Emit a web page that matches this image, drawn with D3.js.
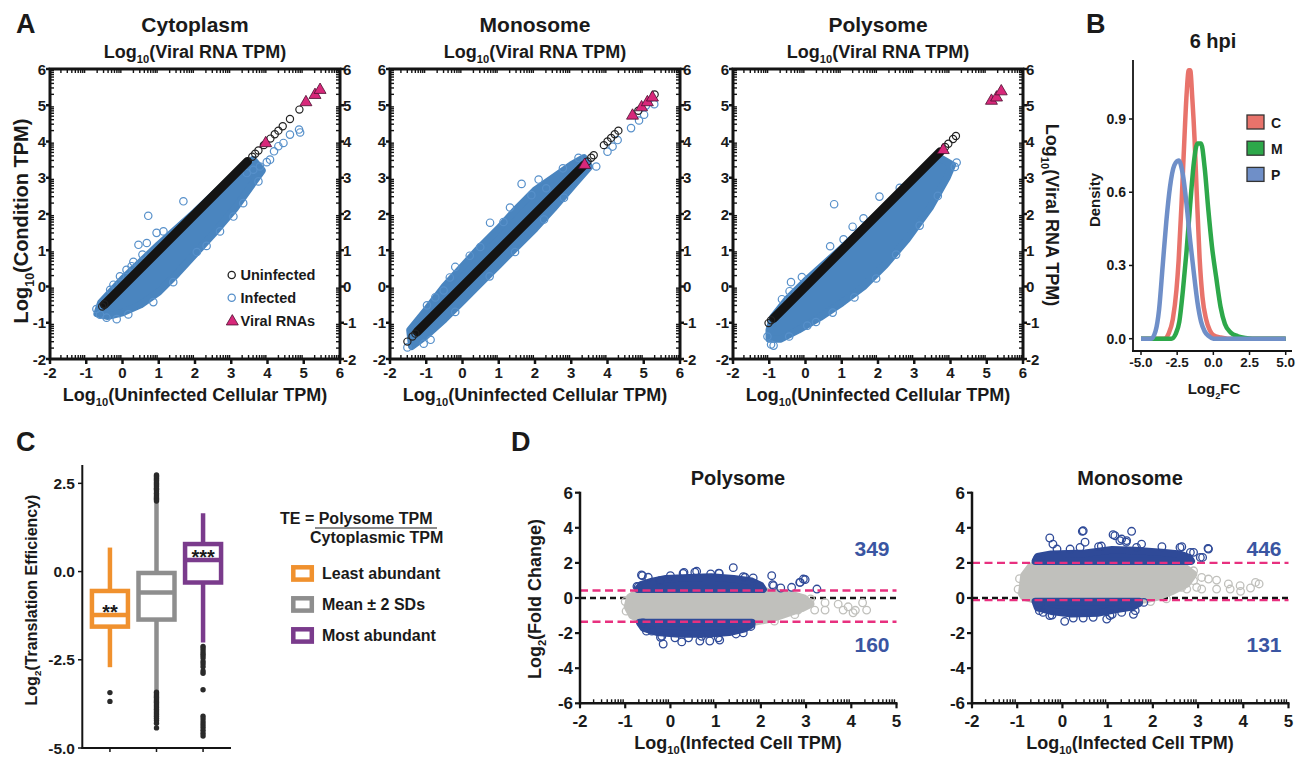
<!DOCTYPE html>
<html><head><meta charset="utf-8">
<script src="https://cdn.jsdelivr.net/npm/d3@7"></script>
<style>
body{margin:0;background:#fff}
svg text{font-family:"Liberation Sans",Arial,Helvetica,sans-serif;font-weight:bold;fill:#1a1a1a}
</style>
</head><body><script>
// ---------- Panel A: scatter of condition TPM vs uninfected TPM (log10) ----------
const scatterTitles = ["Cytoplasm", "Monosome", "Polysome"];
const scatterTicks = [-2, -1, 0, 1, 2, 3, 4, 5, 6];

// Uninfected genes sit on the identity line: dense run [from, to] plus sparse ends
const cytoUninfRun = [-0.5, 3.45];
const cytoUninfSparse = [[-0.56,-0.55],[-0.5,-0.49],[3.58,3.58],[3.66,3.66],[3.75,3.75],[3.9,3.9],[4.08,4.08],[4.2,4.2],[4.3,4.3],[4.42,4.42],[4.62,4.62],[4.88,4.88]];
const cytoInfCloud = [[-0.7,-0.75],[-0.6,-0.45],[0.0,0.2],[1.0,1.15],[2.0,2.05],[3.0,3.0],[3.6,3.5],[3.85,3.2],[3.6,2.85],[3.1,2.15],[2.5,1.45],[2.0,0.9],[1.5,0.35],[1.0,-0.15],[0.5,-0.5],[0.0,-0.72],[-0.4,-0.82]];
const cytoInfOutliers = [[1.68,2.35],[0.71,1.95],[0.44,1.15],[-0.25,0.05],[0.94,1.48],[1.13,1.52],[0.67,1.2],[0.25,0.56],[0.11,0.46],[-0.07,0.28],[-0.34,-0.09],[2.05,0.95],[-0.62,-0.78],[3.61,3.22],[3.79,3.31],[3.98,3.43],[4.07,3.5],[4.18,3.73],[4.3,3.87],[4.44,3.96],[4.62,4.19],[4.87,4.33],[4.9,4.25],[3.43,3.13],
  [-0.44,-0.86],[-0.16,-0.9],[0.16,-0.77],[0.85,-0.43],[1.4,0.12],[2.32,1.12],[2.69,1.52],[3.06,1.93],[3.33,2.3],[3.75,2.9],[-0.72,-0.62],[0.3,0.68],[0.55,0.88]];
const cytoViral = [[3.95,3.98],[5.06,5.11],[5.31,5.31],[5.45,5.45]];

const monoUninfRun = [-1.25, 3.35];
const monoUninfSparse = [[-1.52,-1.52],[-1.38,-1.38],[-1.3,-1.3],[3.45,3.45],[3.55,3.55],[3.62,3.62],[3.9,3.9],[4.0,4.0],[4.1,4.1],[4.2,4.2],[4.3,4.3],[4.85,4.85],[5.3,5.3]];
const monoInfCloud = [[-1.45,-1.2],[-1.0,-0.65],[-0.5,0.0],[0.0,0.55],[0.5,1.1],[1.0,1.6],[1.5,2.15],[2.0,2.65],[2.5,3.0],[3.0,3.35],[3.35,3.55],[3.5,3.3],[3.1,2.85],[2.5,2.15],[2.0,1.6],[1.5,1.1],[1.0,0.6],[0.5,0.1],[0.0,-0.4],[-0.5,-0.9],[-1.0,-1.35],[-1.4,-1.65]];
const monoInfOutliers = [[1.63,2.83],[0.76,1.76],[1.13,1.78],[1.31,2.18],[1.9,2.52],[-0.2,0.54],[-0.98,-0.52],[-1.52,-1.68],[0.07,0.03],[-0.52,-0.11],[0.49,1.09],[2.77,3.26],[2.31,2.71],[3.69,3.31],[4.0,3.72],[4.14,3.86],[4.28,4.04],[4.65,4.37],[4.87,4.58],[5.01,4.74],[5.06,4.99],[5.29,5.03],[-0.88,-1.47],[-1.07,-1.58],
  [-0.75,-0.3],[-0.35,0.25],[0.2,0.85],[1.45,0.95],[0.75,0.28],[-0.2,-0.7],[2.25,1.85],[2.8,2.45],[3.2,3.55],[2.1,2.95]];
const monoViral = [[3.37,3.38],[4.69,4.74],[4.94,4.97],[5.1,5.11],[5.24,5.24]];

const polyUninfRun = [-0.88, 3.72];
const polyUninfSparse = [[-1.02,-1.01],[-0.95,-0.93],[3.85,3.85],[3.94,3.94],[4.07,4.07],[4.15,4.15]];
const polyInfCloud = [[-1.0,-1.2],[-0.9,-0.85],[-0.5,-0.35],[0.0,0.15],[1.0,1.05],[2.0,2.0],[3.0,2.95],[3.7,3.55],[4.05,3.35],[3.9,3.0],[3.45,2.2],[2.8,1.3],[2.2,0.6],[1.6,0.0],[1.0,-0.45],[0.4,-0.85],[-0.2,-1.2],[-0.7,-1.45],[-1.0,-1.45]];
const polyInfOutliers = [[0.79,2.27],[2.04,2.48],[1.6,1.88],[1.3,1.65],[1.05,1.3],[0.68,1.11],[-0.1,0.26],[-0.4,0.12],[-0.44,-0.13],[0.29,-0.98],[-0.88,-1.63],[-1.05,-1.38],[4.17,3.42],[4.12,3.3],[-0.95,-1.6],
  [0.75,-0.72],[1.35,-0.3],[1.95,0.22],[2.5,0.88],[3.15,1.68],[3.65,2.5],[-0.45,-1.38],[0.05,-1.08],[-0.65,-0.35],[2.6,2.72]];
const polyViral = [[3.8,3.79],[5.13,5.15],[5.27,5.24],[5.4,5.41]];

// ---------- Panel B: density of log2 fold change at 6 hpi ----------
const densityKeys = ["C", "M", "P"];
const densityC = [[-5,0],[-3.4,0],[-3.1,0.02],[-2.8,0.08],[-2.55,0.2],[-2.4,0.32],[-2.2,0.55],[-2.0,0.82],[-1.85,1.0],[-1.7,1.1],[-1.6,1.1],[-1.45,0.98],[-1.3,0.82],[-1.15,0.6],[-0.95,0.33],[-0.75,0.17],[-0.5,0.08],[-0.25,0.035],[0,0.015],[0.5,0.005],[1,0],[5,0]];
const densityM = [[-5,0],[-2.9,0],[-2.6,0.02],[-2.35,0.07],[-2.1,0.2],[-1.85,0.36],[-1.6,0.55],[-1.35,0.72],[-1.1,0.8],[-0.85,0.8],[-0.6,0.7],[-0.35,0.53],[-0.1,0.38],[0.2,0.25],[0.5,0.13],[0.8,0.06],[1.2,0.025],[1.7,0.01],[2.2,0.003],[2.7,0],[5,0]];
const densityP = [[-5,0],[-4.3,0],[-4.0,0.03],[-3.75,0.12],[-3.5,0.3],[-3.25,0.48],[-3.0,0.62],[-2.7,0.71],[-2.4,0.73],[-2.1,0.67],[-1.85,0.55],[-1.6,0.4],[-1.35,0.27],[-1.1,0.15],[-0.85,0.07],[-0.6,0.03],[-0.3,0.01],[0,0],[5,0]];
const densityXTicks = [-5, -2.5, 0, 2.5, 5];
const densityYTicks = [0, 0.3, 0.6, 0.9];

// ---------- Panel C: translation efficiency boxes ----------
const boxGroups = ["Least abundant", "Mean ± 2 SDs", "Most abundant"];
const boxLow  = [-2.71, -3.40, -2.01];
const boxQ1   = [-1.56, -1.36, -0.31];
const boxMed  = [-1.23, -0.59, 0.33];
const boxQ3   = [-0.55, -0.04, 0.78];
const boxHigh = [0.68, 1.94, 1.65];
const boxStars = ["**", "", "***"];
const boxOutliers = [
  [-3.43, -3.68],
  [2.74,2.71,2.68,2.64,2.6,2.57,2.52,2.48,2.45,2.41,2.36,2.33,2.28,2.22,2.17,2.12,2.08,2.04,2.0,
   -3.42,-3.47,-3.52,-3.56,-3.61,-3.66,-3.7,-3.75,-3.8,-3.85,-3.9,-3.95,-4.0,-4.05,-4.1,-4.16,-4.22,-4.3,-4.43],
  [-2.12,-2.18,-2.25,-2.32,-2.38,-2.45,-2.55,-2.62,-2.7,-2.82,-2.88,-3.35,-4.1,-4.18,-4.26,-4.34,-4.42,-4.5,-4.58,-4.66]
];
const boxYTicks = [2.5, 0, -2.5, -5];

// ---------- Panel D: log2 fold change vs infected TPM ----------
const maTitles = ["Polysome", "Monosome"];
const maUpCounts = [349, 446];
const maDownCounts = [160, 131];
const maUpCut = [0.43, 2.0];
const maDownCut = [-1.35, -0.12];
const polyGrayCloud = [[-0.95,-0.5],[-0.9,0.05],[-0.7,0.35],[2.1,0.38],[2.6,0.25],[2.95,0.0],[3.1,-0.35],[2.9,-0.6],[2.5,-0.95],[2.2,-1.2],[1.9,-1.35],[-0.55,-1.35],[-0.85,-1.0]];
const polyGrayOut = [[3.08,-0.25],[3.42,-0.27],[3.42,-0.69],[3.71,-0.35],[3.82,-0.69],[3.93,-0.5],[4.04,-0.84],[4.09,-0.7],[4.25,-0.27],[4.34,-0.69],[3.19,-0.69],[2.82,-0.69],[-1.0,-0.2],[-0.98,-0.75],[2.3,-1.32],[2.75,-0.95],[3.1,-0.05]];
const polyUpCloud = [[-0.72,0.5],[-0.65,0.75],[-0.4,0.95],[-0.1,1.1],[0.4,1.15],[0.9,1.2],[1.4,1.1],[1.8,0.95],[2.0,0.7],[2.05,0.5]];
const polyDownCloud = [[-0.68,-1.4],[-0.6,-1.7],[-0.3,-1.95],[0.2,-2.05],[0.8,-2.05],[1.3,-1.95],[1.65,-1.75],[1.8,-1.5],[1.8,-1.4]];
const polyBlueOut = [[-0.62,1.27],[-0.49,1.18],[0.28,1.4],[0.54,1.47],[1.39,1.73],[1.08,1.4],[2.24,1.27],[2.28,0.7],[2.68,0.61],[2.87,0.89],[2.98,1.05],[3.24,0.51],[1.65,1.18],[-0.74,0.66],
  [-0.16,-2.62],[-0.22,-2.24],[0.25,-2.5],[0.65,-2.45],[0.87,-2.45],[1.09,-2.4],[1.61,-1.99],[-0.53,-1.89],[-0.64,-1.43],
  [-0.64,1.31],[-0.71,0.64],[-0.23,0.99],[0.0,1.27],[0.3,1.46],[0.58,1.52],[0.89,1.37],[1.07,1.41],[1.61,1.22],[1.83,1.14],[1.94,0.7],[2.26,0.76],[2.44,0.57],[2.86,0.89],[2.94,1.08],
  [-0.6,-1.42],[-0.41,-1.89],[-0.19,-2.18],[0.1,-2.27],[0.4,-2.27],[0.69,-2.18],[1.06,-2.27],[1.45,-2.05],[1.78,-1.62]];
const monoGrayCloud = [[-0.9,0.25],[-0.85,1.3],[-0.7,1.8],[-0.5,1.95],[2.4,1.95],[2.7,1.75],[2.9,1.35],[2.75,0.8],[2.4,0.35],[2.1,0.05],[1.8,-0.1],[-0.6,-0.1],[-0.85,0.05]];
const monoGrayOut = [[2.9,1.55],[3.08,1.17],[2.9,0.99],[2.75,0.51],[2.97,0.61],[3.23,1.08],[3.41,1.02],[3.67,0.8],[3.71,0.51],[3.41,0.51],[3.93,0.7],[4.16,0.57],[3.94,0.38],[4.27,0.89],[4.35,0.8],[2.53,0.8],[2.64,0.61],[3.08,0.51],[-0.98,0.5],[-0.95,1.1],[2.3,-0.05],[1.95,-0.2]];
const monoUpCloud = [[-0.6,2.1],[-0.55,2.35],[-0.25,2.5],[0.5,2.55],[1.1,2.75],[1.6,2.7],[2.2,2.6],[2.6,2.5],[2.8,2.3],[2.85,2.1]];
const monoDownCloud = [[-0.6,-0.2],[-0.55,-0.55],[-0.25,-0.75],[0.2,-0.9],[0.8,-0.85],[1.2,-0.65],[1.55,-0.5],[1.7,-0.3],[1.7,-0.2]];
const monoBlueOut = [[-0.28,3.42],[-0.21,3.07],[0.44,3.8],[0.5,3.18],[1.12,3.61],[1.53,3.8],[1.27,3.27],[1.41,3.18],[0.86,2.96],[1.75,3.07],[2.64,2.92],[2.9,2.6],[3.23,2.79],[3.1,2.31],[-0.56,2.22],[2.2,2.92],
  [0.05,-1.33],[0.24,-1.14],[0.46,-1.14],[0.98,-1.2],[-0.23,-0.97],[-0.51,-0.72],[1.57,-0.93],[1.61,-0.72],[1.1,-0.93],
  [-0.12,2.79],[-0.47,2.31],[0.17,2.79],[0.39,2.88],[0.46,3.83],[0.8,2.93],[1.16,3.55],[1.31,3.36],[1.42,3.27],[1.64,2.88],[2.6,2.88],[2.83,2.6],[3.05,2.31],[3.22,2.83],[-0.54,2.22],
  [-0.5,-0.34],[-0.43,-0.82],[-0.28,-1.0],[0.68,-1.1],[1.05,-1.0],[1.31,-0.82],[1.59,-0.4],[1.8,-0.25]];
const maXTicks = [-2, -1, 0, 1, 2, 3, 4, 5];
const maYTicks = [-6, -4, -2, 0, 2, 4, 6];

// ---------- drawing ----------
const INK = "#141414";
const INF = "#4A85BF", INF_RING = "#5790CA";
const VIRAL = "#D8287A";
const svg = d3.select("body").append("svg").attr("width", 1305).attr("height", 759);

// text with an optional subscript piece: parts = ["Log", {sub:"10"}, "(...)"]
function rich(g, x, y, parts, size, opt = {}) {
  const t = g.append("text").attr("x", x).attr("y", y).attr("font-size", size)
    .attr("text-anchor", opt.anchor || "middle");
  if (opt.fill) t.style("fill", opt.fill);
  if (opt.rotate) t.attr("transform", `rotate(${opt.rotate},${x},${y})`);
  let inSub = false;
  parts.forEach(p => {
    const isSub = typeof p !== "string";
    const s = t.append("tspan").text(isSub ? p.sub : p);
    if (isSub) { s.attr("font-size", size * 0.62).attr("dy", size * 0.3); inSub = true; }
    else if (inSub) { s.attr("dy", -size * 0.3); inSub = false; }
  });
  return t;
}
const logMinor = decades => decades.flatMap(d => [2,3,4,5,6,7,8,9].map(k => d + Math.log10(k)));

function letter(txt, x, y) {
  svg.append("text").attr("x", x).attr("y", y).attr("font-size", 27).style("font-weight", 900).text(txt);
}

// --- A ---
const A_TOP = 69, A_BOT = 359, A_W = 290;
const scatterPanels = [
  {left: 50, uninf: cytoUninfRun, sparse: cytoUninfSparse, cloud: cytoInfCloud, out: cytoInfOutliers, viral: cytoViral},
  {left: 390, uninf: monoUninfRun, sparse: monoUninfSparse, cloud: monoInfCloud, out: monoInfOutliers, viral: monoViral},
  {left: 733, uninf: polyUninfRun, sparse: polyUninfSparse, cloud: polyInfCloud, out: polyInfOutliers, viral: polyViral}
];
scatterPanels.forEach((p, i) => {
  const x = d3.scaleLinear([-2, 6], [p.left, p.left + A_W]);
  const y = d3.scaleLinear([-2, 6], [A_BOT, A_TOP]);
  const g = svg.append("g");
  const closed = d3.line(d => x(d[0]), d => y(d[1])).curve(d3.curveLinearClosed);
  g.append("path").attr("d", closed(p.cloud)).attr("fill", INF).attr("stroke", INF)
    .attr("stroke-width", 7.5).attr("stroke-linejoin", "round");
  g.selectAll(null).data(p.out).join("circle")
    .attr("cx", d => x(d[0])).attr("cy", d => y(d[1])).attr("r", 3.7)
    .attr("fill", "none").attr("stroke", INF_RING).attr("stroke-width", 1.2);
  g.append("line").attr("x1", x(p.uninf[0])).attr("y1", y(p.uninf[0]))
    .attr("x2", x(p.uninf[1])).attr("y2", y(p.uninf[1]))
    .attr("stroke", INK).attr("stroke-width", 9).attr("stroke-linecap", "round");
  g.selectAll(null).data(p.sparse).join("circle")
    .attr("cx", d => x(d[0])).attr("cy", d => y(d[1])).attr("r", 3.6)
    .attr("fill", "none").attr("stroke", "#222").attr("stroke-width", 1.2);
  g.selectAll(null).data(p.viral).join("path")
    .attr("transform", d => `translate(${x(d[0])},${y(d[1]) + 1})`)
    .attr("d", d3.symbol(d3.symbolTriangle, 62))
    .attr("fill", VIRAL).attr("stroke", "#4a1030").attr("stroke-width", 0.8);

  // frame with inward log minor ticks and outward major ticks
  g.append("rect").attr("x", x(-2)).attr("y", A_TOP).attr("width", A_W).attr("height", A_BOT - A_TOP)
    .attr("fill", "none").attr("stroke", INK).attr("stroke-width", 3);
  const minor = logMinor(d3.range(-2, 6));
  const tk = g.append("g").attr("stroke", INK).attr("stroke-width", 1.4);
  minor.forEach(v => {
    tk.append("line").attr("x1", x(v)).attr("x2", x(v)).attr("y1", A_BOT).attr("y2", A_BOT - 4);
    tk.append("line").attr("x1", x(v)).attr("x2", x(v)).attr("y1", A_TOP).attr("y2", A_TOP + 4);
    tk.append("line").attr("y1", y(v)).attr("y2", y(v)).attr("x1", x(-2)).attr("x2", x(-2) + 4);
    tk.append("line").attr("y1", y(v)).attr("y2", y(v)).attr("x1", x(6)).attr("x2", x(6) - 4);
  });
  const mj = g.append("g").attr("stroke", INK).attr("stroke-width", 2.5);
  scatterTicks.forEach(v => {
    mj.append("line").attr("x1", x(v)).attr("x2", x(v)).attr("y1", A_BOT).attr("y2", A_BOT + 5);
    mj.append("line").attr("y1", y(v)).attr("y2", y(v)).attr("x1", x(-2) - 4).attr("x2", x(-2));
    mj.append("line").attr("y1", y(v)).attr("y2", y(v)).attr("x1", x(6)).attr("x2", x(6) + 4);
    g.append("text").attr("x", x(v)).attr("y", 378).attr("text-anchor", "middle").attr("font-size", 15).text(v);
    g.append("text").attr("x", x(-2) - 4).attr("y", y(v) + 5.5).attr("text-anchor", "end").attr("font-size", 15).text(v);
    g.append("text").attr("x", x(6) + 3).attr("y", y(v) + 5.5).attr("text-anchor", "start").attr("font-size", 15).text(v);
  });
  const cx = p.left + A_W / 2;
  g.append("text").attr("x", cx).attr("y", 32).attr("text-anchor", "middle").attr("font-size", 21).text(scatterTitles[i]);
  rich(g, cx, 58, ["Log", {sub: "10"}, "(Viral RNA TPM)"], 18);
  rich(g, cx, 401, ["Log", {sub: "10"}, "(Uninfected Cellular TPM)"], 18);
});
rich(svg, 28, 221, ["Log", {sub: "10"}, "(Condition TPM)"], 20, {rotate: -90});
rich(svg, 1046, 215, ["Log", {sub: "10"}, "(Viral RNA TPM)"], 18, {rotate: 90});

// legend inside the cytoplasm panel
{
  const lg = svg.append("g");
  lg.append("circle").attr("cx", 231.7).attr("cy", 275).attr("r", 3.6).attr("fill", "none").attr("stroke", "#222").attr("stroke-width", 1.3);
  lg.append("circle").attr("cx", 231.7).attr("cy", 297.7).attr("r", 3.6).attr("fill", "none").attr("stroke", INF_RING).attr("stroke-width", 1.3);
  lg.append("path").attr("transform", "translate(232.3,321.5)").attr("d", d3.symbol(d3.symbolTriangle, 62))
    .attr("fill", VIRAL).attr("stroke", "#4a1030").attr("stroke-width", 0.8);
  ["Uninfected", "Infected", "Viral RNAs"].forEach((t, k) =>
    lg.append("text").attr("x", 240.5).attr("y", 280 + k * 22.8).attr("font-size", 14.5).text(t));
}
letter("A", 16, 33);

// --- B ---
{
  const g = svg.append("g");
  const x = d3.scaleLinear([-5, 5], [1141, 1285.7]);
  const y = d3.scaleLinear([0, 0.9], [338.7, 119]);
  const colors = {C: "#E8736B", M: "#2DA84A", P: "#6F8FC8"};
  const series = {C: densityC, M: densityM, P: densityP};
  const ln = d3.line(d => x(d[0]), d => y(d[1])).curve(d3.curveMonotoneX);
  densityKeys.forEach(k => g.append("path").attr("d", ln(series[k])).attr("fill", "none")
    .attr("stroke", colors[k]).attr("stroke-width", 4.5).attr("stroke-linejoin", "round"));
  g.append("line").attr("x1", 1133).attr("x2", 1133).attr("y1", 60).attr("y2", 351).attr("stroke", INK).attr("stroke-width", 1.8);
  g.append("line").attr("x1", 1132).attr("x2", 1292).attr("y1", 351).attr("y2", 351).attr("stroke", INK).attr("stroke-width", 1.8);
  densityYTicks.forEach(v => {
    g.append("line").attr("x1", 1129).attr("x2", 1133).attr("y1", y(v)).attr("y2", y(v)).attr("stroke", INK).attr("stroke-width", 1.5);
    g.append("text").attr("x", 1126).attr("y", y(v) + 5).attr("text-anchor", "end").attr("font-size", 14).text(v.toFixed(1));
  });
  densityXTicks.forEach(v => {
    g.append("line").attr("x1", x(v)).attr("x2", x(v)).attr("y1", 351).attr("y2", 355).attr("stroke", INK).attr("stroke-width", 1.5);
    g.append("text").attr("x", x(v)).attr("y", 367).attr("text-anchor", "middle").attr("font-size", 13.5).text(v.toFixed(1));
  });
  g.append("text").attr("x", 1213).attr("y", 48).attr("text-anchor", "middle").attr("font-size", 20).text("6 hpi");
  g.append("text").attr("x", 1100).attr("y", 200).attr("text-anchor", "middle").attr("font-size", 15)
    .attr("transform", "rotate(-90,1100,200)").text("Density");
  rich(g, 1214, 394, ["Log", {sub: "2"}, "FC"], 15);
  densityKeys.forEach((k, i) => {
    g.append("rect").attr("x", 1247).attr("y", 115 + i * 26.2).attr("width", 17).attr("height", 14)
      .attr("fill", colors[k]).attr("stroke", "#333").attr("stroke-width", 1.3);
    g.append("text").attr("x", 1271).attr("y", 128 + i * 26.2).attr("font-size", 14).text(k);
  });
}
letter("B", 1086, 33);

// --- C ---
{
  const g = svg.append("g");
  const y = d3.scaleLinear([-5, 3.02], [748, 465]);
  const x = d3.scalePoint(boxGroups, [82, 231]).padding(0.6);
  const cols = ["#F0912E", "#8E8E8E", "#7A3B8C"];
  const hw = 18;
  boxGroups.forEach((grp, i) => {
    const cx = x(grp);
    g.append("line").attr("x1", cx).attr("x2", cx).attr("y1", y(boxLow[i])).attr("y2", y(boxHigh[i]))
      .attr("stroke", cols[i]).attr("stroke-width", 4.5);
    g.append("rect").attr("x", cx - hw).attr("y", y(boxQ3[i])).attr("width", 2 * hw).attr("height", y(boxQ1[i]) - y(boxQ3[i]))
      .attr("fill", "#fff").attr("stroke", cols[i]).attr("stroke-width", 4.5);
    g.append("line").attr("x1", cx - hw).attr("x2", cx + hw).attr("y1", y(boxMed[i])).attr("y2", y(boxMed[i]))
      .attr("stroke", cols[i]).attr("stroke-width", 4.5);
    g.selectAll(null).data(boxOutliers[i]).join("circle").attr("cx", cx).attr("cy", d => y(d)).attr("r", 2.7).attr("fill", "#2a2a2a");
    if (boxStars[i]) g.append("text").attr("x", cx).attr("y", y(boxMed[i]) + 4.5).attr("text-anchor", "middle")
      .attr("font-size", 20).text(boxStars[i]);
    g.append("line").attr("x1", cx).attr("x2", cx).attr("y1", 748).attr("y2", 752).attr("stroke", INK).attr("stroke-width", 1.5);
  });
  g.append("line").attr("x1", 82.3).attr("x2", 82.3).attr("y1", 465).attr("y2", 749).attr("stroke", INK).attr("stroke-width", 2);
  g.append("line").attr("x1", 81.5).attr("x2", 231).attr("y1", 748).attr("y2", 748).attr("stroke", INK).attr("stroke-width", 2);
  boxYTicks.forEach(v => {
    g.append("line").attr("x1", 78).attr("x2", 82).attr("y1", y(v)).attr("y2", y(v)).attr("stroke", INK).attr("stroke-width", 1.5);
    g.append("text").attr("x", 75).attr("y", y(v) + 5.5).attr("text-anchor", "end").attr("font-size", 15.5).text(v.toFixed(1));
  });
  rich(g, 36.5, 600, ["Log", {sub: "2"}, "(Translation Efficiency)"], 16, {rotate: -90});
  g.append("text").attr("x", 280).attr("y", 524).attr("font-size", 16).text("TE = Polysome TPM");
  g.append("line").attr("x1", 315).attr("x2", 437).attr("y1", 528).attr("y2", 528).attr("stroke", "#666").attr("stroke-width", 1.6);
  g.append("text").attr("x", 310).attr("y", 542.5).attr("font-size", 16).text("Cytoplasmic TPM");
  boxGroups.forEach((grp, i) => {
    g.append("rect").attr("x", 293.3).attr("y", 567.3 + i * 31).attr("width", 18.5).attr("height", 12.3)
      .attr("fill", "#fff").attr("stroke", cols[i]).attr("stroke-width", 4.5);
    g.append("text").attr("x", 322).attr("y", 579 + i * 31).attr("font-size", 16).text(grp);
  });
}
letter("C", 16, 451);

// --- D ---
const maPanels = [
  {left: 580, gray: polyGrayCloud, grayOut: polyGrayOut, up: polyUpCloud, down: polyDownCloud, blueOut: polyBlueOut},
  {left: 972, gray: monoGrayCloud, grayOut: monoGrayOut, up: monoUpCloud, down: monoDownCloud, blueOut: monoBlueOut}
];
maPanels.forEach((p, i) => {
  const g = svg.append("g");
  const x = d3.scaleLinear([-2, 5], [p.left, p.left + 316.5]);
  const y = d3.scaleLinear([-6, 6], [703.3, 492.7]);
  const closed = d3.line(d => x(d[0]), d => y(d[1])).curve(d3.curveLinearClosed);
  const GRAY = "#C0C0BC", BLUE = "#2F4A98";
  g.append("line").attr("x1", x(-2)).attr("x2", x(5)).attr("y1", y(0)).attr("y2", y(0))
    .attr("stroke", INK).attr("stroke-width", 2.4).attr("stroke-dasharray", "6,4");
  g.append("path").attr("d", closed(p.gray)).attr("fill", GRAY).attr("stroke", GRAY).attr("stroke-width", 7.5).attr("stroke-linejoin", "round");
  g.selectAll(null).data(p.grayOut).join("circle").attr("cx", d => x(d[0])).attr("cy", d => y(d[1])).attr("r", 3.8)
    .attr("fill", "none").attr("stroke", GRAY).attr("stroke-width", 1.3);
  [p.up, p.down].forEach(c => g.append("path").attr("d", closed(c)).attr("fill", BLUE).attr("stroke", BLUE)
    .attr("stroke-width", 7.5).attr("stroke-linejoin", "round"));
  g.selectAll(null).data(p.blueOut).join("circle").attr("cx", d => x(d[0])).attr("cy", d => y(d[1])).attr("r", 3.8)
    .attr("fill", "none").attr("stroke", BLUE).attr("stroke-width", 1.3);
  [maUpCut[i], maDownCut[i]].forEach(v => g.append("line").attr("x1", x(-2)).attr("x2", x(5)).attr("y1", y(v)).attr("y2", y(v))
    .attr("stroke", "#E8307F").attr("stroke-width", 2.4).attr("stroke-dasharray", "8,4.5"));

  g.append("line").attr("x1", x(-2)).attr("x2", x(-2)).attr("y1", y(6) - 1).attr("y2", y(-6) + 1.2).attr("stroke", INK).attr("stroke-width", 2.5);
  g.append("line").attr("x1", x(-2)).attr("x2", x(5) + 1).attr("y1", y(-6)).attr("y2", y(-6)).attr("stroke", INK).attr("stroke-width", 2.5);
  logMinor(d3.range(-2, 5)).forEach(v => g.append("line").attr("x1", x(v)).attr("x2", x(v)).attr("y1", y(-6)).attr("y2", y(-6) - 4)
    .attr("stroke", INK).attr("stroke-width", 1.4));
  maXTicks.forEach(v => {
    g.append("line").attr("x1", x(v)).attr("x2", x(v)).attr("y1", y(-6)).attr("y2", y(-6) + 5).attr("stroke", INK).attr("stroke-width", 2.2);
    g.append("text").attr("x", x(v)).attr("y", 727).attr("text-anchor", "middle").attr("font-size", 17).text(v);
  });
  maYTicks.forEach(v => {
    g.append("line").attr("x1", x(-2) - 5).attr("x2", x(-2)).attr("y1", y(v)).attr("y2", y(v)).attr("stroke", INK).attr("stroke-width", 2.2);
    g.append("text").attr("x", x(-2) - 7).attr("y", y(v) + 6).attr("text-anchor", "end").attr("font-size", 17).text(v);
  });
  const mid = p.left + 158;
  g.append("text").attr("x", mid).attr("y", 485).attr("text-anchor", "middle").attr("font-size", 20).text(maTitles[i]);
  rich(g, mid, 749, ["Log", {sub: "10"}, "(Infected Cell TPM)"], 18);
  g.append("text").attr("x", p.left + 292).attr("y", 556).attr("text-anchor", "middle").attr("font-size", 21)
    .style("fill", "#3A55A2").text(maUpCounts[i]);
  g.append("text").attr("x", p.left + 292).attr("y", 652).attr("text-anchor", "middle").attr("font-size", 21)
    .style("fill", "#3A55A2").text(maDownCounts[i]);
});
rich(svg, 541, 599, ["Log", {sub: "2"}, "(Fold Change)"], 18, {rotate: -90});
letter("D", 511, 451);
</script></body></html>
